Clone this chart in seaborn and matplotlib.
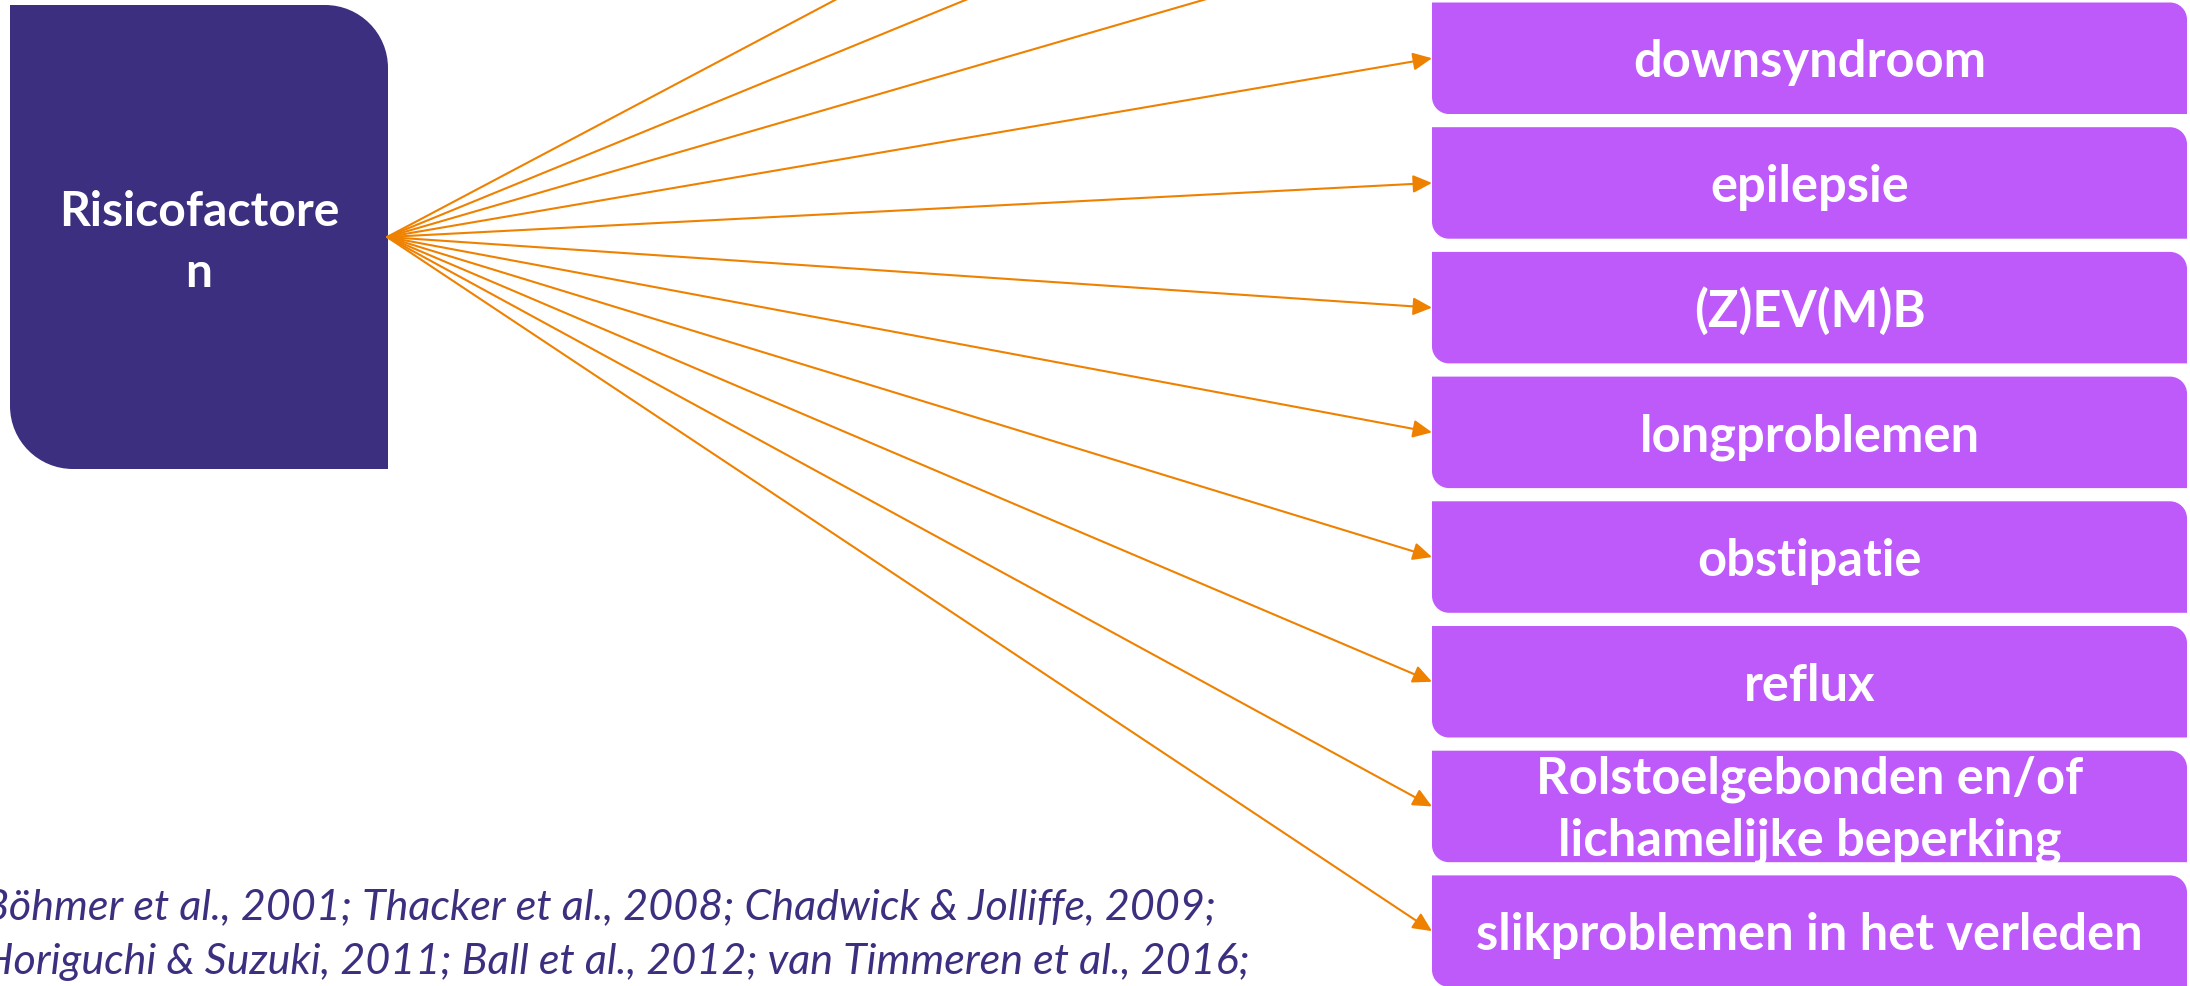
import numpy as np
import pandas as pd
import matplotlib
matplotlib.use("Agg")
import matplotlib.pyplot as plt
from matplotlib.path import Path
from matplotlib.patches import PathPatch
import seaborn as sns

# outcome boxes on the right, top to bottom
outcomes = [
    "downsyndroom",
    "epilepsie",
    "(Z)EV(M)B",
    "longproblemen",
    "obstipatie",
    "reflux",
    "Rolstoelgebonden en/of\nlichamelijke beperking",
    "slikproblemen in het verleden",
]
# the slide is cropped: three more outcome boxes sit above the visible part
n_hidden_above = 3
source_label = ["Risicofactore", "n"]
citation = [
    "Böhmer et al., 2001; Thacker et al., 2008; Chadwick & Jolliffe, 2009;",
    "Horiguchi & Suzuki, 2011; Ball et al., 2012; van Timmeren et al., 2016;",
]

DARK = "#3C2F7F"
VIOLET = "#BE5AFA"
ORANGE = "#EF8100"

# Layout (pixel units, y down)
W, H = 2190, 987
SRC = (10, 6, 388, 470)
SRC_R = 63
OUT_X0, OUT_X1 = 1432, 2187
OUT_TOP, OUT_PITCH, OUT_H, OUT_R = 3.5, 124.7, 111.5, 17
ORIGIN = np.array([387.0, 238.0])

sns.set_theme(style="white")
plt.rcParams["font.family"] = ["Lato", "DejaVu Sans"]

fig = plt.figure(figsize=(W / 100, H / 100), dpi=100)
ax = fig.add_axes([0, 0, 1, 1])


def two_corner_box(x0, y0, x1, y1, r, color):
    # rounded top-right and bottom-left corners, square elsewhere
    k = 0.5523 * r
    verts = [(x0, y0), (x1 - r, y0), (x1 - r + k, y0), (x1, y0 + r - k), (x1, y0 + r),
             (x1, y1), (x0 + r, y1), (x0 + r - k, y1), (x0, y1 - r + k), (x0, y1 - r),
             (x0, y0)]
    codes = [Path.MOVETO, Path.LINETO, Path.CURVE4, Path.CURVE4, Path.CURVE4,
             Path.LINETO, Path.LINETO, Path.CURVE4, Path.CURVE4, Path.CURVE4,
             Path.CLOSEPOLY]
    ax.add_patch(PathPatch(Path(verts, codes), facecolor=color, edgecolor="none", zorder=1))


def fit_width(txt, target_px, grow=1.0):
    # Lato is a bit wider than the slide's font: size by width, then nudge up
    r = fig.canvas.get_renderer()
    w = txt.get_window_extent(renderer=r).width
    return txt.get_fontsize() * target_px / w * grow


# arrows: shafts with seaborn, heads with annotate
rows = []
tips = []
for k in range(-n_hidden_above, len(outcomes)):
    tip = np.array([OUT_X0, OUT_TOP + k * OUT_PITCH + OUT_H / 2])
    u = (tip - ORIGIN) / np.linalg.norm(tip - ORIGIN)
    end = tip - 12 * u
    rows.append({"arrow": k, "x": ORIGIN[0], "y": ORIGIN[1]})
    rows.append({"arrow": k, "x": end[0], "y": end[1]})
    tips.append((k, tip, u))
arrows = pd.DataFrame(rows)

sns.lineplot(data=arrows, x="x", y="y", units="arrow", estimator=None, sort=False,
             color=ORANGE, lw=1.5, ax=ax, zorder=2)

for k, tip, u in tips:
    if k < 0:
        continue
    ax.annotate("", xy=tip, xytext=tip - 18 * u,
                arrowprops=dict(arrowstyle="-|>,head_length=11.5,head_width=5.4",
                                mutation_scale=1, color=ORANGE, lw=1.5,
                                shrinkA=0, shrinkB=0), zorder=3)

# source box
two_corner_box(*SRC, SRC_R, DARK)
cx = (SRC[0] + SRC[2]) / 2
t = ax.text(cx, 226, source_label[0], ha="center", va="baseline", color="white",
            fontsize=33, fontweight="bold", zorder=4)
src_size = fit_width(t, 273, 1.03)
t.set_fontsize(src_size)
ax.text(cx, 287, source_label[1], ha="center", va="baseline", color="white",
        fontsize=src_size, fontweight="bold", zorder=4)

# outcome boxes
probe = ax.text(0, 0, outcomes[-1], fontsize=30, fontweight="bold")
out_size = fit_width(probe, 647, 1.03)
probe.remove()
ox = (OUT_X0 + OUT_X1) / 2
for i, label in enumerate(outcomes):
    top = OUT_TOP + i * OUT_PITCH
    two_corner_box(OUT_X0, top, OUT_X1, top + OUT_H, OUT_R, VIOLET)
    lines = label.split("\n")
    if len(lines) == 1:
        ax.text(ox, top + 74, lines[0], ha="center", va="baseline", color="white",
                fontsize=out_size, fontweight="bold", zorder=4)
    else:
        for j, line in enumerate(lines):
            ax.text(ox, top + 42 + 62 * j, line, ha="center", va="baseline",
                    color="white", fontsize=out_size, fontweight="bold", zorder=4)

# citation (cut at the left edge as in the slide)
c = ax.text(-17, 919, citation[0], ha="left", va="baseline", color=DARK,
            fontsize=29, style="italic", zorder=4)
cit_size = fit_width(c, 1230)
c.set_fontsize(cit_size)
ax.text(-17, 974, citation[1], ha="left", va="baseline", color=DARK,
        fontsize=cit_size, style="italic", zorder=4)

ax.set_xlim(0, W)
ax.set_ylim(H, 0)
ax.axis("off")

fig.savefig("out.png", dpi=100)
